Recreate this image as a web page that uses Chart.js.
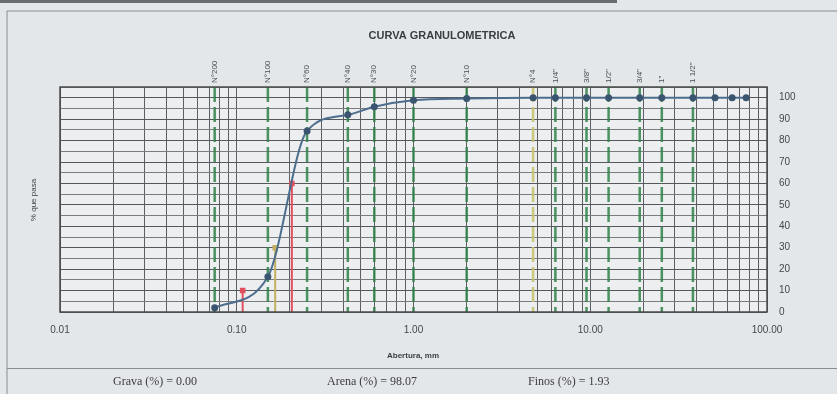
<!DOCTYPE html>
<html>
<head>
<meta charset="utf-8">
<script src="https://cdn.jsdelivr.net/npm/chart.js@4/dist/chart.umd.min.js"></script>
<style>
  html, body { margin: 0; padding: 0; background: #e4e7ea; }
  #wrap { width: 837px; height: 394px; position: relative; }
</style>
</head>
<body>
<div id="wrap"><canvas id="c" width="837" height="394"></canvas></div>
<script>
// Sieve series: nominal openings (mm) and their names
const sieveLabels = ['N°200', 'N°100', 'N°60', 'N°40', 'N°30', 'N°20', 'N°10', 'N°4', '1/4"', '3/8"', '1/2"', '3/4"', '1"', '1 1/2"'];
const sieveSizes  = [0.075, 0.15, 0.25, 0.425, 0.6, 1.0, 2.0, 4.75, 6.35, 9.525, 12.7, 19.05, 25.4, 38.1];

// Grading curve: opening (mm) vs % passing
const openings = [0.075, 0.15, 0.25, 0.425, 0.6, 1.0, 2.0, 4.75, 6.35, 9.525, 12.7, 19.05, 25.4, 38.1, 50.8, 63.5, 76.2];
const passing  = [1.93, 16.5, 84.5, 92.0, 95.8, 98.8, 99.6, 100, 100, 100, 100, 100, 100, 100, 100, 100, 100];

// Characteristic diameters D10, D30, D60
const dNames    = ['D10', 'D30', 'D60'];
const dSizes    = [0.108, 0.165, 0.205];
const dPercents = [10, 30, 60];

// Axis ticks
const xMajorTicks = [0.01, 0.1, 1, 10, 100];
const xTickText   = ['0.01', '0.10', '1.00', '10.00', '100.00'];
const yLabelTicks = [0, 10, 20, 30, 40, 50, 60, 70, 80, 90, 100];

// Summary line under the chart
const summaryText = ['Grava (%) = 0.00', 'Arena (%) = 98.07', 'Finos (%) = 1.93'];

const dColors = ['#e0505e', '#c2b060', '#e0505e'];

const curveData = openings.map((x, i) => ({ x: x, y: passing[i] }));
const dDatasets = dSizes.map((d, i) => ({
  label: dNames[i],
  data: [{ x: d, y: 0 }, { x: d, y: dPercents[i] }],
  borderColor: dColors[i],
  borderWidth: 2,
  pointRadius: [0, 2.5],
  pointStyle: 'rect',
  pointBackgroundColor: dColors[i],
  pointBorderColor: dColors[i],
  tension: 0,
  order: 2
}));

const framePlugin = {
  id: 'frame',
  beforeDraw(chart) {
    const { ctx, chartArea: a } = chart;
    ctx.save();
    ctx.fillStyle = '#e4e7ea';
    ctx.fillRect(0, 0, chart.width, chart.height);
    // page frame
    ctx.strokeStyle = '#8a8d90';
    ctx.lineWidth = 1;
    ctx.beginPath();
    ctx.moveTo(7, 394); ctx.lineTo(7, 11); ctx.lineTo(837, 11);
    ctx.moveTo(7, 368.5); ctx.lineTo(837, 368.5);
    ctx.stroke();
    ctx.fillStyle = '#6a6d70';
    ctx.fillRect(0, 0, 617, 3);
    ctx.fillStyle = '#eceef0';
    ctx.fillRect(a.left, a.top, a.right - a.left, a.bottom - a.top);
    ctx.restore();
  },
  beforeDatasetsDraw(chart) {
    const { ctx, chartArea: a, scales } = chart;
    ctx.save();
    sieveSizes.forEach((s, i) => {
      const px = scales.x.getPixelForValue(s);
      ctx.strokeStyle = sieveLabels[i] === 'N°4' ? 'rgba(200,195,110,0.9)' : 'rgba(46,130,72,0.85)';
      ctx.lineWidth = 2.5;
      ctx.setLineDash([15, 5]);
      ctx.beginPath();
      ctx.moveTo(px, a.top);
      ctx.lineTo(px, a.bottom);
      ctx.stroke();
    });
    ctx.restore();
  },
  afterDraw(chart) {
    const { ctx, chartArea: a, scales } = chart;
    ctx.save();
    // plot border
    ctx.strokeStyle = '#4a4a4a';
    ctx.lineWidth = 1.5;
    ctx.strokeRect(a.left, a.top, a.right - a.left, a.bottom - a.top);
    // title
    ctx.fillStyle = '#3a3d42';
    ctx.font = 'bold 11px "Liberation Sans", Arial, sans-serif';
    ctx.textAlign = 'center';
    ctx.textBaseline = 'middle';
    ctx.fillText('CURVA GRANULOMETRICA', 442, 36);
    // sieve names, rotated
    ctx.font = '8px "Liberation Sans", Arial, sans-serif';
    ctx.fillStyle = '#4a4d52';
    sieveSizes.forEach((s, i) => {
      const px = scales.x.getPixelForValue(s);
      ctx.save();
      ctx.translate(px, 83);
      ctx.rotate(-Math.PI / 2);
      ctx.textAlign = 'left';
      ctx.textBaseline = 'middle';
      ctx.fillText(sieveLabels[i], 0, 0);
      ctx.restore();
    });
    // axis titles
    ctx.font = '8px "Liberation Sans", Arial, sans-serif';
    ctx.fillStyle = '#3a3d42';
    ctx.save();
    ctx.translate(34, 200);
    ctx.rotate(-Math.PI / 2);
    ctx.textAlign = 'center';
    ctx.textBaseline = 'middle';
    ctx.fillText('% que pasa', 0, 0);
    ctx.restore();
    ctx.font = 'bold 8px "Liberation Sans", Arial, sans-serif';
    ctx.textAlign = 'center';
    ctx.fillText('Abertura, mm', 413, 356);
    // summary
    ctx.font = '12px "Liberation Serif", "DejaVu Serif", serif';
    ctx.fillStyle = '#3c3c40';
    ctx.textAlign = 'left';
    ctx.fillText(summaryText[0], 113, 382);
    ctx.fillText(summaryText[1], 327, 382);
    ctx.fillText(summaryText[2], 528, 382);
    ctx.restore();
  }
};

new Chart(document.getElementById('c'), {
  type: 'line',
  data: {
    datasets: [
      {
        label: '% que pasa',
        data: curveData,
        borderColor: '#4d6d8c',
        borderWidth: 2,
        cubicInterpolationMode: 'monotone',
        pointRadius: 2.5,
        pointBackgroundColor: '#3b5570',
        pointBorderColor: '#3b5570',
        order: 1
      },
      ...dDatasets
    ]
  },
  options: {
    responsive: false,
    animation: false,
    devicePixelRatio: 1,
    layout: { padding: { left: 60, top: 87, right: 0, bottom: 0 } },
    plugins: { legend: { display: false }, title: { display: false }, tooltip: { enabled: false } },
    scales: {
      x: {
        type: 'logarithmic',
        min: 0.01,
        max: 100,
        afterFit(scale) { scale.height = 82; },
        afterBuildTicks(scale) {
          const t = [];
          for (let e = -2; e < 2; e++) {
            for (let m = 1; m <= 9; m++) t.push({ value: m * Math.pow(10, e) });
          }
          t.push({ value: 100 });
          scale.ticks = t;
        },
        ticks: {
          autoSkip: false,
          maxRotation: 0,
          padding: 12,
          color: '#44474c',
          font: { size: 10, family: '"Liberation Sans", Arial, sans-serif' },
          callback(value) {
            const k = xMajorTicks.findIndex(v => Math.abs(v - value) / v < 1e-6);
            return k >= 0 ? xTickText[k] : '';
          }
        },
        grid: { color: '#5c5f63', lineWidth: 1, drawTicks: false },
        border: { display: false }
      },
      y: {
        position: 'right',
        min: 0,
        max: 105,
        afterFit(scale) { scale.width = 70; },
        afterBuildTicks(scale) {
          const t = [];
          for (let v = 0; v <= 105; v += 5) t.push({ value: v });
          scale.ticks = t;
        },
        ticks: {
          autoSkip: false,
          padding: 12,
          color: '#44474c',
          font: { size: 10, family: '"Liberation Sans", Arial, sans-serif' },
          callback(value) { return yLabelTicks.includes(value) ? String(value) : ''; }
        },
        grid: {
          color: ctx => (ctx.tick && ctx.tick.value % 10 === 0) ? '#55585c' : '#7a7d80',
          lineWidth: 1,
          drawTicks: false
        },
        border: { display: false }
      }
    }
  },
  plugins: [framePlugin]
});
</script>
</body>
</html>
